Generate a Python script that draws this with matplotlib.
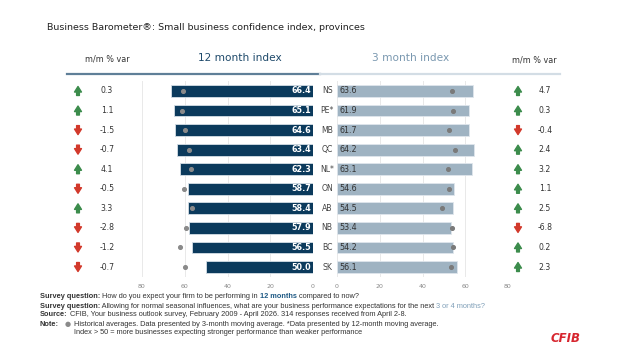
import matplotlib
matplotlib.use('Agg')
import matplotlib.pyplot as plt
from matplotlib.lines import Line2D

W, H = 635, 362

provinces = ['NS', 'PE*', 'MB', 'QC', 'NL*', 'ON', 'AB', 'NB', 'BC', 'SK']
idx12 = [66.4, 65.1, 64.6, 63.4, 62.3, 58.7, 58.4, 57.9, 56.5, 50.0]
hist12 = [61.0, 61.5, 60.0, 57.8, 57.3, 60.5, 56.8, 59.6, 62.0, 60.0]
var12 = [0.3, 1.1, -1.5, -0.7, 4.1, -0.5, 3.3, -2.8, -1.2, -0.7]
idx3 = [63.6, 61.9, 61.7, 64.2, 63.1, 54.6, 54.5, 53.4, 54.2, 56.1]
hist3 = [54.0, 54.5, 52.6, 55.0, 52.0, 52.6, 49.3, 54.0, 54.5, 53.5]
var3 = [4.7, 0.3, -0.4, 2.4, 3.2, 1.1, 2.5, -6.8, 0.2, 2.3]
ticks = [0, 20, 40, 60, 80]

navy = '#0b3a5c'
light = '#9fb3c2'
green = '#3c8c4c'
red = '#d2392b'
txt = '#333333'

fig = plt.figure(figsize=(W / 100, H / 100), dpi=100)
fig.patch.set_facecolor('white')


def box(x0, y0, x1, y1):
    # pixel box -> figure fraction rect
    return [x0 / W, 1 - y1 / H, (x1 - x0) / W, (y1 - y0) / H]


top, bot = 81.2, 276.8
n = len(provinces)
rows = list(range(n))


def style(ax):
    ax.set_ylim(n - 0.5, -0.5)
    for s in ax.spines.values():
        s.set_visible(False)
    ax.set_yticks([])
    ax.set_xticks(ticks)
    ax.set_xticklabels([str(t) for t in ticks])
    ax.tick_params(axis='x', length=0, labelsize=4.5, labelcolor='#888888', pad=5)
    ax.grid(axis='x', color='#e9e9e9', linewidth=0.7)
    ax.set_axisbelow(True)


# 12 month index (reversed axis)
axL = fig.add_axes(box(142, top, 313, bot))
style(axL)
axL.set_xlim(80, 0)
axL.barh(rows, idx12, height=0.6, color=navy, edgecolor='#d5dee6', linewidth=0.6)
axL.scatter(hist12, rows, s=7, color='#8a8a8a', zorder=3, clip_on=False)
for r, v in zip(rows, idx12):
    axL.text(1, r, f'{v:.1f}', ha='right', va='center', fontsize=5.8,
             color='white', fontweight='bold')

# 3 month index
axR = fig.add_axes(box(337, top, 508, bot))
style(axR)
axR.set_xlim(0, 80)
axR.barh(rows, idx3, height=0.6, color=light, edgecolor='#dfe6ec', linewidth=0.6)
axR.scatter(hist3, rows, s=7, color='#7a7a7a', zorder=3)
for r, v in zip(rows, idx3):
    axR.text(1, r, f'{v:.1f}', ha='left', va='center', fontsize=5.8, color=txt)
for r, p in zip(rows, provinces):
    axR.text(-4.6, r, p, ha='center', va='center', fontsize=5.6, color='#444444')


# m/m % var columns
def var_col(x0, x1, ax_x, val_x, vals):
    ax = fig.add_axes(box(x0, top, x1, bot))
    ax.set_xlim(x0, x1)
    ax.set_ylim(n - 0.5, -0.5)
    ax.axis('off')
    for r, v in zip(rows, vals):
        up = v >= 0
        c = green if up else red
        y_from, y_to = (r + 0.23, r - 0.23) if up else (r - 0.23, r + 0.23)
        ax.annotate('', xy=(ax_x, y_to), xytext=(ax_x, y_from),
                    arrowprops=dict(arrowstyle='simple,head_length=0.4,head_width=0.5,tail_width=0.2',
                                    color=c, shrinkA=0, shrinkB=0))
        ax.text(val_x, r, f'{v:.1f}', ha='center', va='center', fontsize=5.6, color=txt)


var_col(60, 135, 78, 107, var12)
var_col(510, 570, 518, 545, var3)

# headers
fig.text(47 / W, 1 - 27 / H, 'Business Barometer®: Small business confidence index, provinces',
         fontsize=6.8, color='#222222', va='center', ha='left', fontweight='medium')
fig.text(107 / W, 1 - 59 / H, 'm/m % var', fontsize=5.8, color='#333333', ha='center', va='center')
fig.text(534 / W, 1 - 60 / H, 'm/m % var', fontsize=5.8, color='#333333', ha='center', va='center')
fig.text(240 / W, 1 - 58 / H, '12 month index', fontsize=7.6, color='#1f4a6b', ha='center', va='center')
fig.text(411 / W, 1 - 58 / H, '3 month index', fontsize=7.6, color='#7a98b0', ha='center', va='center')
fig.add_artist(Line2D([67 / W, 320 / W], [1 - 74 / H] * 2, color='#5f7f98', linewidth=1.6))
fig.add_artist(Line2D([320 / W, 560 / W], [1 - 74 / H] * 2, color='#d3dde5', linewidth=1.6))

# footnotes
fig.canvas.draw()
rend = fig.canvas.get_renderer()
fs = 5.3
fam = 'Liberation Sans'
blue = '#1f5a85'
lblue = '#7f9fb8'


def rich(x, y, parts):
    for s, c, w in parts:
        t = fig.text(x / W, 1 - y / H, s, fontsize=fs, color=c, fontweight=w,
                     ha='left', va='center', family=fam)
        x += t.get_window_extent(rend).width


rich(40, 297, [('Survey question:', txt, 'bold'),
               (' How do you expect your firm to be performing in', txt, 'normal'),
               (' 12 months', blue, 'bold'), (' compared to now?', txt, 'normal')])
rich(40, 306, [('Survey question:', txt, 'bold'),
               (' Allowing for normal seasonal influences, what are your business performance expectations for the next', txt, 'normal'),
               (' 3 or 4 months?', lblue, 'normal')])
rich(40, 315, [('Source:', txt, 'bold'),
               (' CFIB, Your business outlook survey, February 2009 - April 2026. 314 responses received from April 2-8.', txt, 'normal')])
rich(40, 324, [('Note:', txt, 'bold')])
fig.text(68 / W, 1 - 324 / H, '●', fontsize=5, color='#8a8a8a', ha='center', va='center')
rich(74, 324, [('Historical averages. Data presented by 3-month moving average. *Data presented by 12-month moving average.', txt, 'normal')])
rich(74, 333, [('Index > 50 = more businesses expecting stronger performance than weaker performance', txt, 'normal')])

fig.text(566 / W, 1 - 339 / H, 'CFIB', fontsize=8.5, color='#d7262f', fontweight='bold',
         fontstyle='italic', ha='center', va='center')

fig.savefig('out.png', dpi=100, facecolor='white')
